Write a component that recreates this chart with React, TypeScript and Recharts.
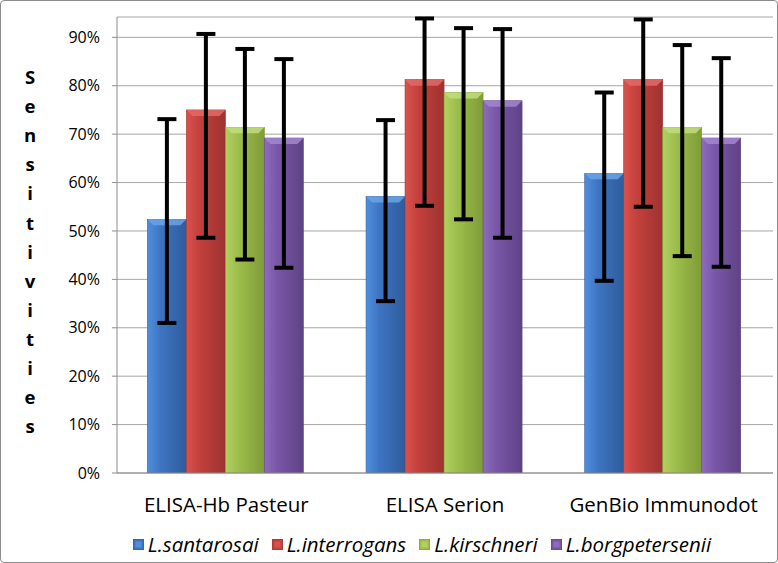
import React from 'react';
import { BarChart, Bar, XAxis, YAxis, CartesianGrid, ErrorBar, Legend } from 'recharts';

const categories = ['ELISA-Hb Pasteur', 'ELISA Serion', 'GenBio Immunodot'];
const seriesNames = ['L.santarosai', 'L.interrogans', 'L.kirschneri', 'L.borgpetersenii'];

const santarosai = [0.524, 0.571, 0.619];
const santarosaiLow = [0.31, 0.355, 0.397];
const santarosaiHigh = [0.731, 0.729, 0.786];

const interrogans = [0.75, 0.8125, 0.8125];
const interrogansLow = [0.486, 0.552, 0.55];
const interrogansHigh = [0.907, 0.939, 0.937];

const kirschneri = [0.714, 0.786, 0.714];
const kirschneriLow = [0.441, 0.524, 0.448];
const kirschneriHigh = [0.876, 0.919, 0.884];

const borgpetersenii = [0.692, 0.769, 0.692];
const borgpeterseniiLow = [0.424, 0.486, 0.426];
const borgpeterseniiHigh = [0.855, 0.917, 0.857];

const yTicks = [0, 0.1, 0.2, 0.3, 0.4, 0.5, 0.6, 0.7, 0.8, 0.9];
const yLabel = 'Sensitivities';

const palette = [
  { id: 'gBlue', light: '#4f8fdc', main: '#3d74c2', dark: '#2f5c9c', top: '#6aa3e6' },
  { id: 'gRed', light: '#d9514d', main: '#c3403c', dark: '#9e3230', top: '#e36a66' },
  { id: 'gGreen', light: '#b0d060', main: '#9cbd4a', dark: '#7f9c38', top: '#c2dd7c' },
  { id: 'gPurple', light: '#8d6cbd', main: '#7856a6', dark: '#5e4285', top: '#a286cf' },
];

const keys = ['s', 'i', 'k', 'b'];
const values = [santarosai, interrogans, kirschneri, borgpetersenii];
const lows = [santarosaiLow, interrogansLow, kirschneriLow, borgpeterseniiLow];
const highs = [santarosaiHigh, interrogansHigh, kirschneriHigh, borgpeterseniiHigh];

const data = categories.map((name, ci) => {
  const row: any = { name };
  keys.forEach((k, si) => {
    const v = values[si][ci];
    row[k] = v;
    row[k + 'Err'] = [v - lows[si][ci], highs[si][ci] - v];
  });
  return row;
});

const FONT = '"Open Sans", "Noto Sans", sans-serif';

const makeShape = (p: typeof palette[number]) => (props: any) => {
  const { x, y, width, height } = props;
  if (height <= 0) return null;
  const b = Math.min(6, width / 5);
  return (
    <g>
      <rect x={x} y={y} width={width} height={height} fill={`url(#${p.id})`} stroke={p.dark} strokeWidth={0.6} />
      <polygon
        points={`${x},${y} ${x + width},${y} ${x + width - b},${y + b} ${x + b},${y + b}`}
        fill={p.top}
        opacity={0.85}
      />
    </g>
  );
};

const YLabel = (props: any) => {
  const vb = props.viewBox || { x: 0, y: 0 };
  const letters = yLabel.split('');
  return (
    <g>
      {letters.map((ch, i) => (
        <text
          key={i}
          x={vb.x + 30}
          y={vb.y + 67 + i * 29.1}
          textAnchor="middle"
          fontFamily={FONT}
          fontWeight="bold"
          fontSize={18.5}
          fill="#000"
        >
          {ch}
        </text>
      ))}
    </g>
  );
};

const LegendContent = () => (
  <div
    style={{
      display: 'flex',
      justifyContent: 'center',
      paddingLeft: 84,
      paddingTop: 14,
      fontFamily: FONT,
      fontStyle: 'italic',
      fontSize: 20.5,
      color: '#000',
      lineHeight: '24px',
    }}
  >
    {seriesNames.map((n, i) => (
      <div key={n} style={{ display: 'flex', alignItems: 'center', marginRight: 13 }}>
        <svg width={11} height={11} style={{ marginRight: 4 }}>
          <rect x={0} y={0} width={11} height={11} fill={palette[i].main} stroke={palette[i].dark} strokeWidth={1} />
          <rect x={2.5} y={2.5} width={6} height={6} fill={palette[i].light} />
        </svg>
        <span>{n}</span>
      </div>
    ))}
  </div>
);

export default function App() {
  return (
    <div style={{ position: 'absolute', left: 0, top: 0, width: 778, height: 563, background: '#fff' }}>
      <BarChart
        width={778}
        height={563}
        data={data}
        margin={{ top: 17, right: 5, left: 0, bottom: 0 }}
        barCategoryGap="13.9%"
        barGap={0}
      >
        <defs>
          {palette.map((p) => (
            <linearGradient key={p.id} id={p.id} x1="0" y1="0" x2="1" y2="0">
              <stop offset="0%" stopColor={p.light} />
              <stop offset="35%" stopColor={p.main} />
              <stop offset="100%" stopColor={p.dark} />
            </linearGradient>
          ))}
        </defs>
        <CartesianGrid vertical={false} stroke="#a6a6a6" strokeWidth={1} />
        <XAxis
          dataKey="name"
          height={45}
          tickLine={false}
          axisLine={{ stroke: '#8c8c8c' }}
          tick={{ fill: '#000', fontSize: 20.5, fontFamily: FONT }}
          tickMargin={18}
        />
        <YAxis
          width={117}
          domain={[0, 0.942]}
          ticks={yTicks}
          allowDataOverflow
          tickFormatter={(v: number) => `${Math.round(v * 100)}%`}
          tick={{ fill: '#000', fontSize: 16, fontFamily: FONT }}
          tickLine={{ stroke: '#8c8c8c' }}
          tickSize={5}
          tickMargin={12}
          axisLine={{ stroke: '#8c8c8c' }}
          label={<YLabel />}
        />
        <Legend verticalAlign="bottom" height={45} content={<LegendContent />} />
        {keys.map((k, i) => (
          <Bar key={k} dataKey={k} name={seriesNames[i]} fill={palette[i].main} isAnimationActive={false} shape={makeShape(palette[i])}>
            <ErrorBar dataKey={k + 'Err'} width={9.5} stroke="#000" strokeWidth={4} direction="y" />
          </Bar>
        ))}
      </BarChart>
      <div
        style={{
          position: 'absolute',
          left: 0,
          top: 0,
          width: 778,
          height: 563,
          boxSizing: 'border-box',
          border: '1px solid #8c8c8c',
          borderRadius: 4,
          pointerEvents: 'none',
        }}
      />
    </div>
  );
}
